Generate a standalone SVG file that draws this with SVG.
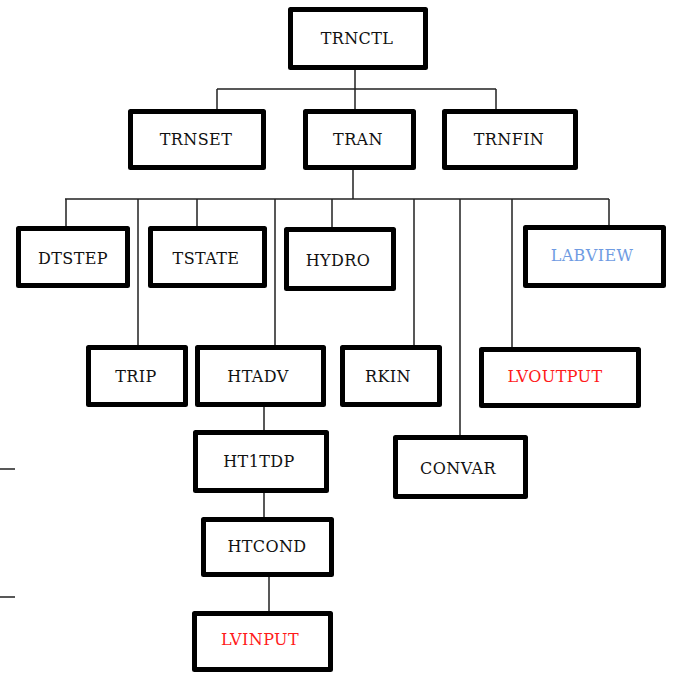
<svg xmlns="http://www.w3.org/2000/svg" width="673" height="677" viewBox="0 0 673 677">
  <style>
    .box { fill: #ffffff; stroke: #000000; stroke-width: 5; stroke-linejoin: round; }
    .lbl { font-family: "DejaVu Serif", "Liberation Serif", serif; font-size: 16px; letter-spacing: 0.4px; fill: #111111; text-anchor: middle; }
    .red { fill: #ff1a1a; }
    .blue { fill: #6f9be2; }
    .wire { stroke: #222222; stroke-width: 1.5; fill: none; }
  </style>
  <rect width="673" height="677" fill="#ffffff"/>

  <!-- connectors -->
  <g id="connectors">
    <path class="wire" d="M355 70 V89 M217 89 H496 M217 89 V109 M355 89 V109 M496 89 V109"/>
    <path class="wire" d="M353 170 V199 M65 199 H609"/>
    <path class="wire" d="M66 199 V226 M197 199 V226 M332 199 V227 M609 199 V225"/>
    <path class="wire" d="M138 199 V345 M275 199 V345 M414 199 V345 M512 199 V347 M460 199 V435"/>
    <path class="wire" d="M264 407 V430 M264 493 V517 M269 577 V611"/>
    <path class="wire" d="M0 469 H15 M0 597 H15"/>
  </g>

  <g id="TRNCTL"><rect class="box" x="290.5" y="9.5" width="135" height="58"/><text class="lbl" x="357" y="44">TRNCTL</text></g>
  <g id="TRNSET"><rect class="box" x="130.5" y="111.5" width="133" height="56"/><text class="lbl" x="196" y="145">TRNSET</text></g>
  <g id="TRAN"><rect class="box" x="305.5" y="111.5" width="108" height="56"/><text class="lbl" x="358" y="145">TRAN</text></g>
  <g id="TRNFIN"><rect class="box" x="444.5" y="111.5" width="131" height="56"/><text class="lbl" x="509" y="145">TRNFIN</text></g>

  <g id="DTSTEP"><rect class="box" x="18.5" y="228.5" width="109" height="57"/><text class="lbl" x="73" y="264">DTSTEP</text></g>
  <g id="TSTATE"><rect class="box" x="150.5" y="228.5" width="114" height="57"/><text class="lbl" x="206" y="264">TSTATE</text></g>
  <g id="HYDRO"><rect class="box" x="286.5" y="229.5" width="107" height="59"/><text class="lbl" x="338" y="266">HYDRO</text></g>
  <g id="LABVIEW"><rect class="box" x="525.5" y="227.5" width="138" height="58"/><text class="lbl blue" x="592" y="261">LABVIEW</text></g>

  <g id="TRIP"><rect class="box" x="88.5" y="347.5" width="97" height="57"/><text class="lbl" x="136" y="382">TRIP</text></g>
  <g id="HTADV"><rect class="box" x="197.5" y="347.5" width="126" height="57"/><text class="lbl" x="258" y="382">HTADV</text></g>
  <g id="RKIN"><rect class="box" x="342.5" y="347.5" width="97" height="57"/><text class="lbl" x="388" y="382">RKIN</text></g>
  <g id="LVOUTPUT"><rect class="box" x="481.5" y="349.5" width="157" height="56"/><text class="lbl red" x="555" y="382">LVOUTPUT</text></g>

  <g id="HT1TDP"><rect class="box" x="195.5" y="432.5" width="131" height="58"/><text class="lbl" x="259" y="467">HT1TDP</text></g>
  <g id="CONVAR"><rect class="box" x="395.5" y="437.5" width="130" height="59"/><text class="lbl" x="458" y="474">CONVAR</text></g>
  <g id="HTCOND"><rect class="box" x="203.5" y="519.5" width="128" height="55"/><text class="lbl" x="267" y="552">HTCOND</text></g>
  <g id="LVINPUT"><rect class="box" x="194.5" y="613.5" width="136" height="56"/><text class="lbl red" x="260" y="645">LVINPUT</text></g>
</svg>
